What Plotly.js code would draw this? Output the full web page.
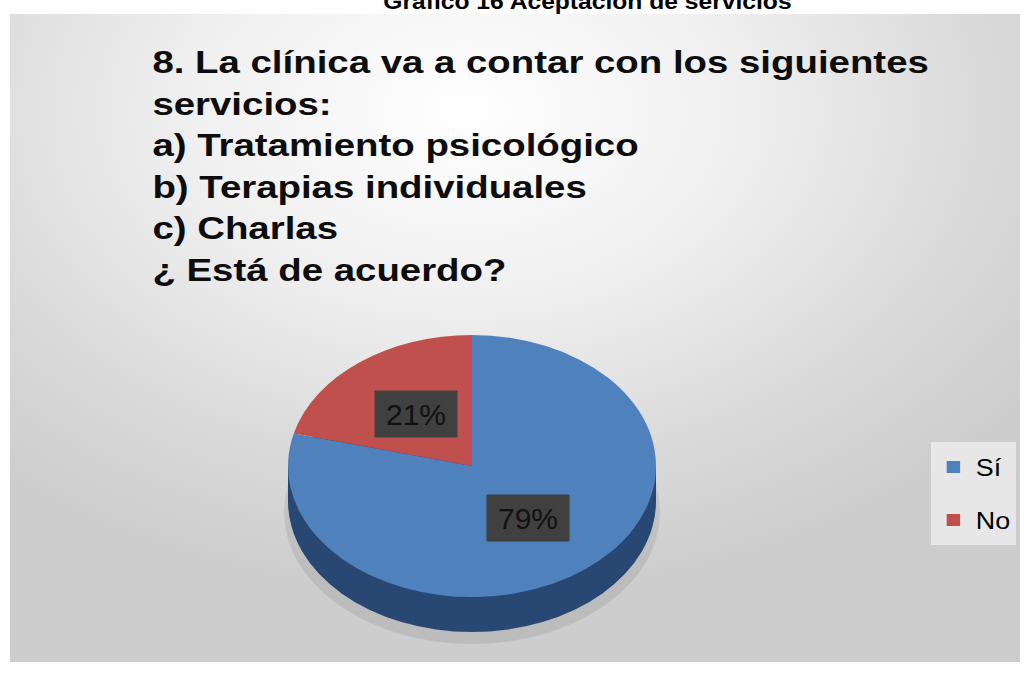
<!DOCTYPE html>
<html><head><meta charset="utf-8">
<script src="https://cdn.plot.ly/plotly-3.0.1.min.js"></script>
<style>
html,body{margin:0;padding:0;background:#fff;width:1024px;height:675px;overflow:hidden;}
#bg{position:absolute;left:10px;top:14px;width:1010px;height:648px;
  background:radial-gradient(ellipse 70% 75% at 45% 15%, #ffffff 0%, #efefef 40%, #d9d9d9 75%, #cdcdcd 100%);}
#chart{position:absolute;left:0;top:0;width:1024px;height:675px;}
</style></head><body>
<div id="bg"></div><div id="chart"></div>
<script>
const labels = ['Sí', 'No'];
const values = [79, 21];
const colors = ['#4f81bd', '#c0504d'];
const questionLines = [
  '8. La clínica va a contar con los siguientes',
  'servicios:',
  'a) Tratamiento psicológico',
  'b) Terapias individuales',
  'c) Charlas',
  '¿ Está de acuerdo?'
];
const caption = 'Gráfico 16 Aceptación de servicios';

const W = 1024, H = 675;
const CX = 472, CY = 466, RX = 184, RY = 131, DEPTH = 35;
const px = x => x / W;
const py = y => 1 - y / H;
const FONT = 'Liberation Sans, Arial, sans-serif';

const total = values.reduce((a, b) => a + b, 0);
let acc = 0;
const labelAnns = values.map((v, i) => {
  const mid = (acc + v / 2) / total * 2 * Math.PI;
  acc += v;
  const f = 0.5;
  const x = CX + f * RX * Math.sin(mid);
  const y = CY - f * RY * Math.cos(mid);
  return {
    x: px(x), y: py(y), xref: 'paper', yref: 'paper', showarrow: false,
    text: Math.round(v / total * 100) + '%',
    font: {family: FONT, size: 30, color: '#111'},
    bgcolor: '#404040', width: 80, height: 44, xanchor: 'center', yanchor: 'middle'
  };
});

const data = [{
  type: 'pie', labels: labels, values: values, sort: false,
  direction: 'clockwise', rotation: 0,
  marker: {colors: colors, line: {width: 0}},
  textinfo: 'none', hoverinfo: 'none',
  domain: {x: [px(CX - RX), px(CX + RX)], y: [py(CY + RX), py(CY - RX)]}
}];

const layout = {
  width: W, height: H,
  margin: {l: 0, r: 0, t: 0, b: 0},
  paper_bgcolor: 'rgba(0,0,0,0)', plot_bgcolor: 'rgba(0,0,0,0)',
  font: {family: FONT, color: '#000'},
  showlegend: true,
  legend: {
    x: px(931), xanchor: 'left', y: py(442), yanchor: 'top',
    bgcolor: 'rgba(234,234,234,0.9)', borderwidth: 0,
    font: {family: FONT, size: 24, color: '#000'}
  },
  shapes: [
    {type: 'circle', xref: 'paper', yref: 'paper', layer: 'below',
     x0: px(CX - RX - 4), x1: px(CX + RX + 4), y0: py(CY + DEPTH + RY + 12), y1: py(CY + DEPTH - RY + 10),
     fillcolor: 'rgba(0,0,0,0.08)', line: {width: 0}},
    {type: 'rect', xref: 'paper', yref: 'paper', layer: 'below',
     x0: px(CX - RX), x1: px(CX + RX), y0: py(CY + DEPTH), y1: py(CY),
     fillcolor: '#284873', line: {width: 0}},
    {type: 'circle', xref: 'paper', yref: 'paper', layer: 'below',
     x0: px(CX - RX), x1: px(CX + RX), y0: py(CY + DEPTH + RY), y1: py(CY + DEPTH - RY),
     fillcolor: '#284873', line: {width: 0}}
  ],
  annotations: [
    {x: px(150), y: py(42), xref: 'paper', yref: 'paper', xanchor: 'left', yanchor: 'top',
     align: 'left', showarrow: false,
     text: '<b>' + questionLines.join('<br>') + '</b>',
     font: {family: FONT, size: 32, color: '#0d0d0d'}},
    {x: px(587), y: py(16), xref: 'paper', yref: 'paper', xanchor: 'center', yanchor: 'bottom',
     showarrow: false, text: '<b>' + caption + '</b>',
     font: {family: FONT, size: 22, color: '#000'}}
  ].concat(labelAnns)
};

function stretchX(el, x0, s) {
  if (!el) return;
  const prev = el.getAttribute('transform') || '';
  el.setAttribute('transform', 'translate(' + (x0 * (1 - s)) + ',0) scale(' + s + ',1) ' + prev);
}

Plotly.newPlot('chart', data, layout, {staticPlot: true}).then(gd => {
  // elliptical (tilted) pie face
  const g = gd.querySelector('.pielayer');
  if (g) {
    const sy = RY / RX;
    g.setAttribute('transform', 'translate(0,' + (CY * (1 - sy)) + ') scale(1,' + sy + ')');
  }
  // widen the texts like the reference
  stretchX(gd.querySelector('.annotation[data-index="0"]'), 150, 1.2);
  stretchX(gd.querySelector('.annotation[data-index="1"]'), 587, 1.12);
  // legend spacing
  const leg = gd.querySelector('.legend');
  if (leg) {
    const items = leg.querySelectorAll('.traces');
    const FIRST = 25, GAP = 53;
    const HT = FIRST * 2 + GAP * (items.length - 1);
    items.forEach((it, i) => {
      const m = /translate\(([-\d.]+)[ ,]+([-\d.]+)\)/.exec(it.getAttribute('transform') || '');
      const tx = m ? m[1] : 0;
      it.setAttribute('transform', 'translate(' + tx + ',' + (FIRST + GAP * i) + ')');
    });
    const bg = leg.querySelector('rect.bg');
    if (bg) bg.setAttribute('height', HT);
    leg.querySelectorAll('[clip-path]').forEach(el => el.removeAttribute('clip-path'));
    if (leg.hasAttribute('clip-path')) leg.removeAttribute('clip-path');
    const m = /translate\(([-\d.]+)[ ,]+([-\d.]+)\)/.exec(leg.getAttribute('transform') || '');
    if (m) leg.setAttribute('transform', 'translate(' + m[1] + ',' + m[2] + ') scale(1.12,1)');
  }
});
</script>
</body></html>
